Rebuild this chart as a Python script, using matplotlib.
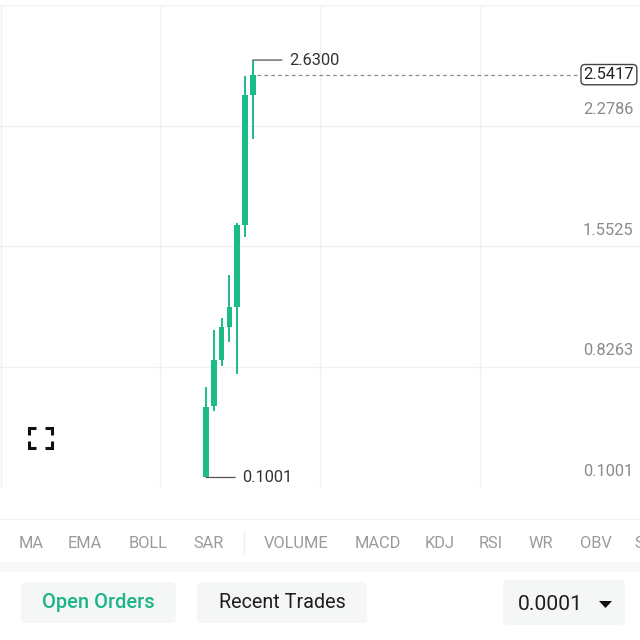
import matplotlib
matplotlib.use("Agg")
import matplotlib.pyplot as plt
from matplotlib import transforms
from matplotlib.patches import FancyBboxPatch, Polygon
from matplotlib.lines import Line2D

plt.rcParams['font.family'] = ['Roboto', 'DejaVu Sans']

# candle data
opens = [0.1001, 0.531, 0.810, 1.010, 1.132, 1.629, 2.418]
highs = [0.646, 0.992, 1.065, 1.326, 1.641, 2.533, 2.630]
lows = [0.1001, 0.501, 0.774, 0.919, 0.725, 1.556, 2.151]
closes = [0.525, 0.810, 1.010, 1.132, 1.629, 2.418, 2.5417]
axis_labels = [0.1001, 0.8263, 1.5525, 2.2786]
tabs = ["MA", "EMA", "BOLL", "SAR", "VOLUME", "MACD", "KDJ", "RSI", "WR", "OBV", "S"]
tab_x = [31, 85, 148, 209, 296, 378, 440, 491, 541, 596, 639]

green = '#1bbc8a'
grid_c = '#f1f1f1'

W, H = 640, 640
fig = plt.figure(figsize=(6.4, 6.4), dpi=100)
fig.patch.set_facecolor('white')

def px(x, y):
    return x / W, 1 - y / H

# chart area: px y 5..487
ax = fig.add_axes([0, 1 - 487 / H, 1, (487 - 5) / H])
ax.set_facecolor('white')
for s in ax.spines.values():
    s.set_visible(False)
ax.set_xticks([])
ax.set_yticks([])

# scale: 164.8 px per unit, low at px 477
ppu = 164.8
lo, hi = min(lows), max(highs)
ax.set_ylim(lo - (487 - 477.5) / ppu, hi + (60 - 5) / ppu)
step = 7.8
x0 = 206
ax.set_xlim(-x0 / step, (W - x0) / step)

# grid
for f in [0.25, 0.5, 0.75]:
    ax.plot([f, f], [0, 1], transform=ax.transAxes, color=grid_c, lw=1, zorder=0)
for f in [0, 0.25, 0.5, 0.75, 1]:
    ax.plot([0, 1], [f, f], transform=ax.transAxes, color=grid_c, lw=1, zorder=0)
ax.plot([0.001, 0.001], [0, 1], transform=ax.transAxes, color=grid_c, lw=1, zorder=0)

# candles
idx = list(range(len(opens)))
ax.vlines(idx, lows, highs, color=green, lw=1.4, zorder=3)
ax.bar(idx, [c - o for o, c in zip(opens, closes)], bottom=opens, width=0.72,
       color=green, zorder=4)

# y axis labels
for i, v in enumerate(axis_labels):
    ax.annotate(f"{v:.4f}", xy=(0.99, i * 0.25), xycoords='axes fraction',
                xytext=(0, 11.5), textcoords='offset points',
                ha='right', va='center', fontsize=11.8, color='#8a8a8a')

# high / low markers
hi_i = highs.index(hi)
lo_i = lows.index(lo)
for i, v in [(hi_i, hi), (lo_i, lo)]:
    ax.annotate(f"{v:.4f}", xy=(i, v), xytext=(26, 0), textcoords='offset points',
                ha='left', va='center', fontsize=11.8, color='#333333',
                arrowprops=dict(arrowstyle='-', color='#555555', lw=0.9,
                                shrinkA=3, shrinkB=0))

# last price dashed line + box
last = closes[-1]
xl = ax.get_xlim()
x_end = xl[0] + (578 / W) * (xl[1] - xl[0])
ax.plot([idx[-1] + 0.55, x_end], [last, last], color='#8c8c8c', lw=0.9,
        ls=(0, (3, 2.5)), zorder=2)
bt = transforms.blended_transform_factory(ax.transAxes, ax.transData)
ax.text(0.991, last, f"{last:.4f}", transform=bt, ha='right', va='center',
        fontsize=11.8, color='#222222', zorder=6,
        bbox=dict(boxstyle='round,pad=0.16,rounding_size=0.25', fc='white',
                  ec='#444444', lw=1.0))

# fullscreen icon
arm = 7
for cx, cy, dx, dy in [(29, 428, 1, 1), (52, 428, -1, 1), (29, 448, 1, -1), (52, 448, -1, -1)]:
    xs = [cx + dx * arm, cx, cx]
    ys = [cy, cy, cy + dy * arm]
    fig.add_artist(Line2D([px(x, 0)[0] for x in xs], [px(0, y)[1] for y in ys],
                          color='#111111', lw=2.2, solid_capstyle='butt',
                          solid_joinstyle='miter'))

# bottom UI
fig.add_artist(Line2D([0, 1], [px(0, 519)[1]] * 2, color='#f3f3f3', lw=1))
for t, x in zip(tabs, tab_x):
    fig.text(*px(x, 543), t, ha='center', va='center', fontsize=11.8, color='#9a9a9a')
fig.add_artist(Line2D([px(244, 0)[0]] * 2, [px(0, 532)[1], px(0, 553)[1]],
                      color='#eeeeee', lw=1))
fig.add_artist(plt.Rectangle(px(0, 572), 1, 10 / H, transform=fig.transFigure,
                             color='#f6f7f7', lw=0))

def button(x1, x2, y1, y2):
    fig.add_artist(FancyBboxPatch(px(x1, y2), (x2 - x1) / W, (y2 - y1) / H,
                                  boxstyle='round,pad=0,rounding_size=0.008',
                                  transform=fig.transFigure, fc='#f5f6f6', ec='none'))

button(21, 176, 582, 623)
button(197, 367, 582, 623)
button(503, 625, 580, 625)
fig.text(*px(98, 603), "Open Orders", ha='center', va='center', fontsize=14.5,
         color='#1db487', fontweight='medium')
fig.text(*px(282, 603), "Recent Trades", ha='center', va='center', fontsize=14.2,
         color='#1e1e1e')
fig.text(*px(550, 604), "0.0001", ha='center', va='center', fontsize=15.2, color='#1e1e1e')
fig.add_artist(Polygon([px(599, 601), px(612, 601), px(605.5, 608)], closed=True,
                       transform=fig.transFigure, fc='#111111', ec='none'))

fig.savefig("out.png", dpi=100, facecolor='white')
